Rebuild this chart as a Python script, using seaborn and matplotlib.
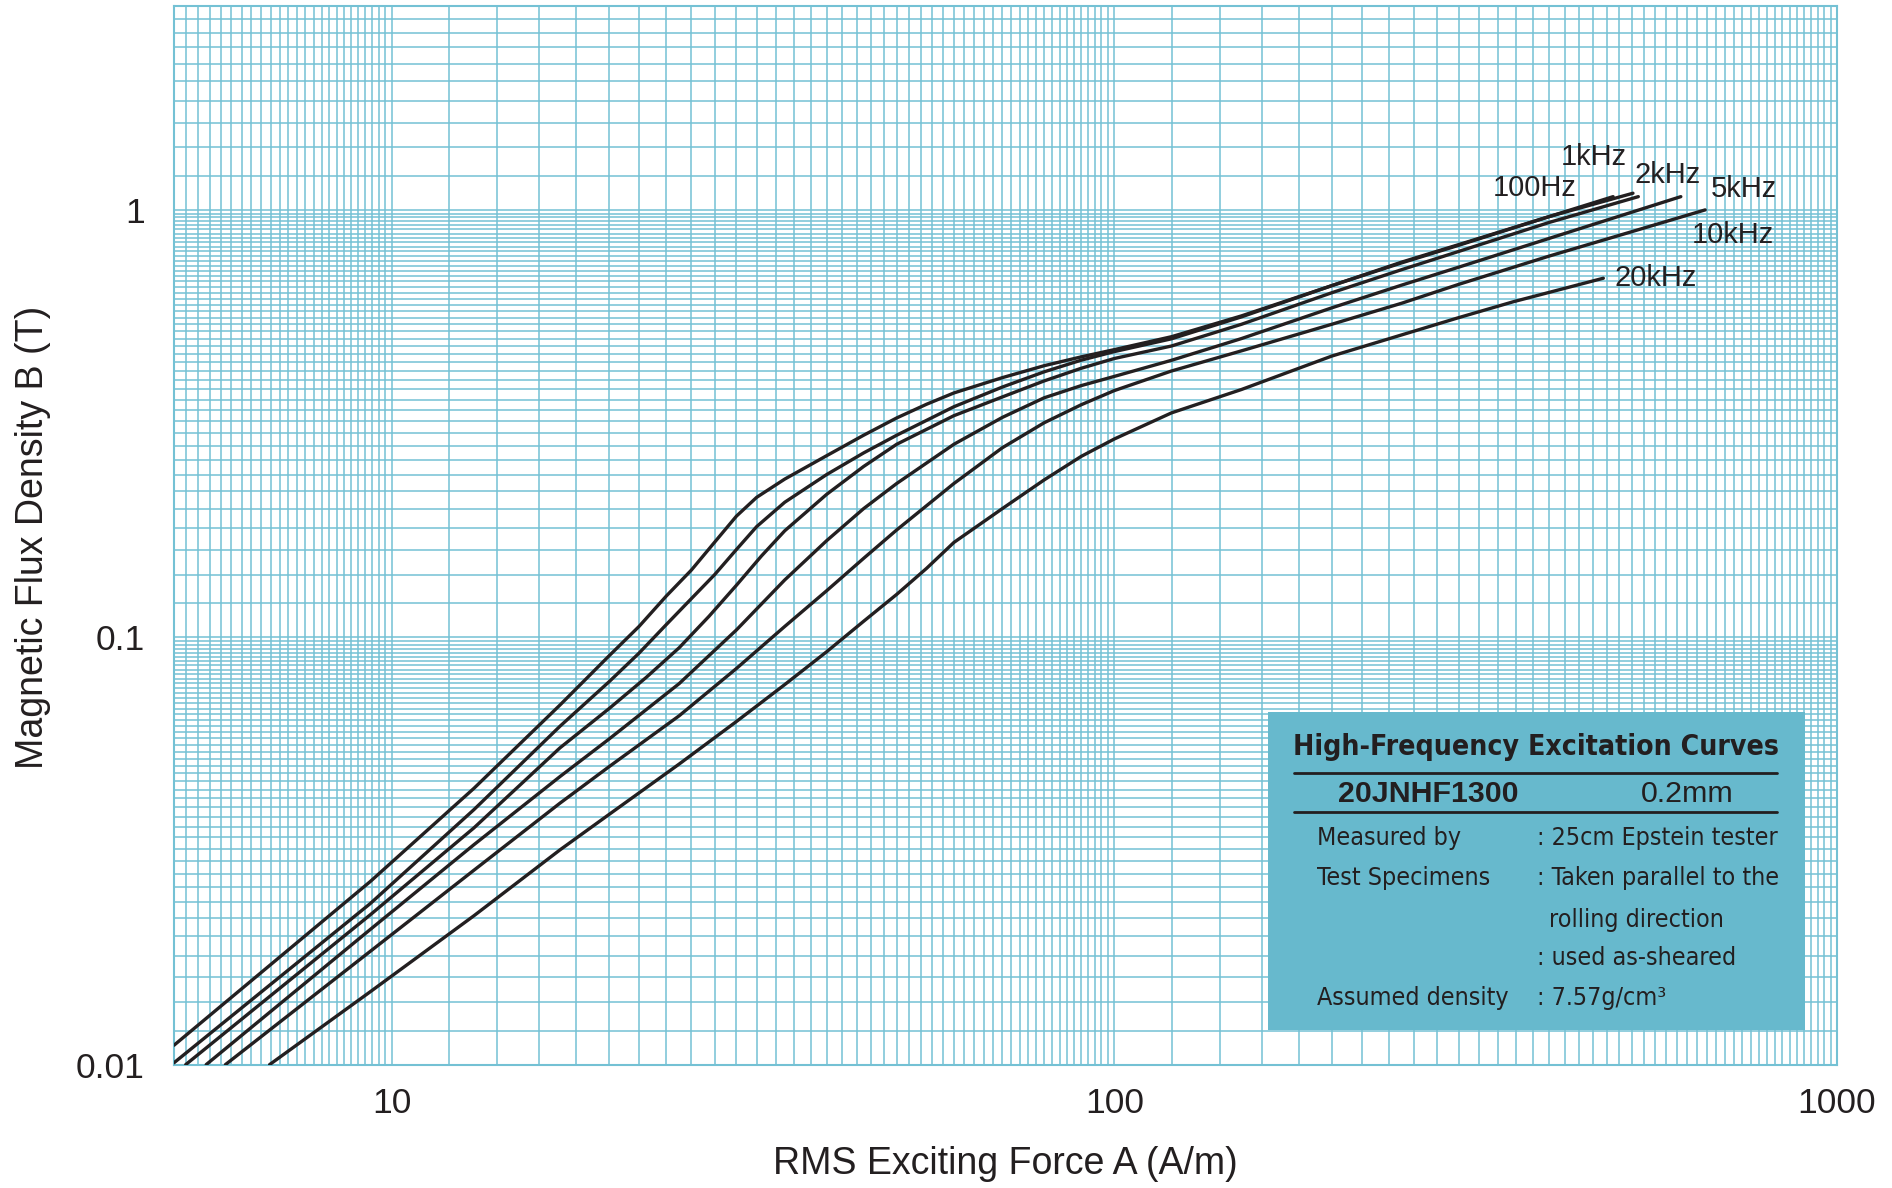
import numpy as np
import pandas as pd
import matplotlib
matplotlib.use("Agg")
import matplotlib.pyplot as plt
from matplotlib import font_manager
from matplotlib.ticker import FixedLocator, NullFormatter
from matplotlib.patches import Rectangle
import seaborn as sns

# --- data (H in A/m, B in T) ---
h_100hz = [5, 9.34, 13, 17.1, 20, 22, 24, 26, 28, 30, 32, 35, 40, 45, 50, 55, 60, 70, 80, 90, 100,
           120, 150, 200, 250, 300, 400, 490]
b_100hz = [0.0111, 0.0268, 0.0443, 0.0694, 0.0905, 0.106, 0.1249, 0.1437, 0.167, 0.192, 0.2125, 0.2345,
           0.266, 0.297, 0.326, 0.351, 0.373, 0.405, 0.432, 0.453, 0.471,
           0.505, 0.565, 0.665, 0.755, 0.83, 0.965, 1.074]

h_1khz = [5, 9.34, 13, 17.1, 20, 22, 24, 26, 28, 30, 32, 35, 40, 45, 50, 60, 70, 80, 90, 100,
          120, 150, 200, 250, 300, 400, 522]
b_1khz = [0.0101, 0.0238, 0.0395, 0.0619, 0.0787, 0.0918, 0.1071, 0.1232, 0.1402, 0.1604, 0.1815, 0.207,
          0.2403, 0.27, 0.297, 0.3463, 0.385, 0.418, 0.445, 0.466,
          0.4993, 0.562, 0.665, 0.752, 0.827, 0.965, 1.094]

h_2khz = [5.19, 9.34, 13, 17.1, 20, 22.5, 25, 27.5, 30, 32.5, 35, 40, 45, 50, 60, 70, 80, 90, 100,
          120, 150, 200, 250, 300, 400, 531]
b_2khz = [0.01, 0.0224, 0.0358, 0.0551, 0.0681, 0.0805, 0.0945, 0.112, 0.1323, 0.155, 0.1775, 0.216,
          0.251, 0.2829, 0.33, 0.365, 0.398, 0.426, 0.449,
          0.4803, 0.54, 0.64, 0.725, 0.8, 0.935, 1.074]

h_5khz = [5.54, 9.34, 13, 17.1, 20, 25, 30, 35, 40, 45, 50, 60, 70, 80, 90, 100,
          120, 150, 200, 250, 300, 400, 608]
b_5khz = [0.01, 0.0207, 0.0327, 0.0472, 0.0578, 0.0779, 0.104, 0.1362, 0.1683, 0.2, 0.229, 0.2829,
          0.3269, 0.3634, 0.388, 0.4077, 0.4447, 0.5, 0.59, 0.667, 0.735, 0.858, 1.074]

h_10khz = [5.89, 9.34, 13, 17.1, 20, 25, 30, 35, 40, 45, 50, 60, 70, 80, 90, 100,
           120, 150, 200, 250, 300, 400, 500, 657]
b_10khz = [0.01, 0.0184, 0.0285, 0.0409, 0.0498, 0.0655, 0.0845, 0.106, 0.1285, 0.153, 0.1783, 0.229,
           0.2776, 0.3177, 0.35, 0.3777, 0.4198, 0.468, 0.54, 0.605, 0.67, 0.78, 0.872, 1.0]

h_20khz = [6.78, 9.34, 13, 17.1, 20, 25, 30, 35, 40, 45, 50, 55, 60, 70, 80, 90, 100,
           120, 150, 200, 300, 357, 475]
b_20khz = [0.01, 0.0148, 0.0223, 0.0318, 0.0385, 0.0505, 0.0635, 0.0775, 0.0925, 0.109, 0.126, 0.145,
           0.1667, 0.2, 0.2335, 0.265, 0.291, 0.335, 0.38, 0.455, 0.56, 0.61, 0.692]

freq_labels = ["100Hz", "1kHz", "2kHz", "5kHz", "10kHz", "20kHz"]
x_ticks = [10, 100, 1000]
x_tick_labels = ["10", "100", "1000"]
y_ticks = [0.01, 0.1, 1]
y_tick_labels = ["0.01", "0.1", "1"]

series = [(h_100hz, b_100hz), (h_1khz, b_1khz), (h_2khz, b_2khz),
          (h_5khz, b_5khz), (h_10khz, b_10khz), (h_20khz, b_20khz)]
frames = []
for name, (h, b) in zip(freq_labels, series):
    frames.append(pd.DataFrame({"H": h, "B": b, "freq": name}))
df = pd.concat(frames, ignore_index=True)

GRID = "#74c1d4"
INK = "#231f20"
BOX = "#67b9cd"

sns.set_style("white")
plt.rcParams["font.family"] = ["Liberation Sans", "DejaVu Sans"]

# pick a narrow face for the info box if one is installed
names = {(f.name, f.stretch) for f in font_manager.fontManager.ttflist}
if any(n == "Liberation Sans Narrow" for n, _ in names):
    NARROW = dict(family="Liberation Sans Narrow")
elif ("DejaVu Sans", "condensed") in names:
    NARROW = dict(family="DejaVu Sans", fontstretch="condensed")
else:
    NARROW = dict(family="Liberation Sans")

fig = plt.figure(figsize=(18.92, 11.88), dpi=100)
ax = fig.add_axes([0.09197, 0.10387, 0.87896, 0.89108])
ax.set_xscale("log")
ax.set_yscale("log")
ax.set_xlim(5, 1000)
ax.set_ylim(0.01, 3)

# graph-paper grid: 0.2 steps within each decade
x_grid = [round(d * (1 + 0.2 * k), 6) for d in (1, 10, 100) for k in range(46)]
x_grid = [v for v in x_grid if 5 <= v <= 1000]
y_grid = [round(d * (1 + 0.2 * k), 6) for d in (0.01, 0.1, 1) for k in range(46)]
y_grid = [v for v in y_grid if 0.01 <= v <= 3]
ax.xaxis.set_minor_locator(FixedLocator(x_grid))
ax.yaxis.set_minor_locator(FixedLocator(y_grid))
ax.xaxis.set_minor_formatter(NullFormatter())
ax.yaxis.set_minor_formatter(NullFormatter())
ax.set_xticks(x_ticks)
ax.set_xticklabels(x_tick_labels)
ax.set_yticks(y_ticks)
ax.set_yticklabels(y_tick_labels)
ax.grid(which="both", color=GRID, linewidth=1.1)
ax.set_axisbelow(True)
ax.tick_params(which="both", length=0)
ax.tick_params(axis="x", labelsize=25.5, pad=16, colors=INK)
ax.tick_params(axis="y", labelsize=25.5, pad=21, colors=INK)
for s in ax.spines.values():
    s.set_color(GRID)
    s.set_linewidth(1.5)

sns.lineplot(data=df, x="H", y="B", hue="freq", palette=[INK] * 6, estimator=None,
             sort=False, legend=False, linewidth=2.4, ax=ax, zorder=3)

ax.set_xlabel("RMS Exciting Force A (A/m)", fontsize=27, color=INK)
ax.set_ylabel("Magnetic Flux Density B (T)", fontsize=27, color=INK)
ax.xaxis.label.set_va("center")
ax.yaxis.label.set_va("center")
ax.xaxis.set_label_coords(0.5, -0.0939)
ax.yaxis.set_label_coords(-0.0848, 0.498)

# curve labels
label_pos = {"1kHz": (0.8538, 0.8577), "100Hz": (0.8182, 0.8279), "2kHz": (0.8981, 0.8404),
             "5kHz": (0.9441, 0.8269), "10kHz": (0.9372, 0.7837), "20kHz": (0.8910, 0.7434)}
for name in freq_labels:
    x, y = label_pos[name]
    ax.text(x, y, name, transform=ax.transAxes, fontsize=21, color=INK,
            ha="center", va="center", zorder=4)

# info box
ax.add_patch(Rectangle((0.6578, 0.0327), 0.9805 - 0.6578, 0.3328 - 0.0327,
                       transform=ax.transAxes, facecolor=BOX, edgecolor="none", zorder=5))
renderer = fig.canvas.get_renderer()


def fit_text(t, width_px):
    # shrink/grow the font so the string spans about the width seen in the reference
    w = t.get_window_extent(renderer=renderer).width
    t.set_fontsize(t.get_fontsize() * width_px / w)


title = ax.text(0.8189, 0.3003, "High-Frequency Excitation Curves", transform=ax.transAxes,
                fontsize=28, fontweight="bold", color=INK, ha="center", va="center", zorder=6, **NARROW)
fit_text(title, 486)
for yy in (0.2757, 0.2389):
    ax.plot([0.6734, 0.9641], [yy, yy], transform=ax.transAxes, color=INK, lw=2, zorder=6)
grade = ax.text(0.7543, 0.2559, "20JNHF1300", transform=ax.transAxes, fontsize=21.5, fontweight="bold",
                color=INK, ha="center", va="center", zorder=6)
fit_text(grade, 181)
ax.text(0.9097, 0.2559, "0.2mm", transform=ax.transAxes, fontsize=grade.get_fontsize(),
        color=INK, ha="center", va="center", zorder=6)

rows = [("Measured by", ": 25cm Epstein tester", 0.2138),
        ("Test Specimens", ": Taken parallel to the", 0.1760),
        ("", "rolling direction", 0.1366),
        ("", ": used as-sheared", 0.1004),
        ("Assumed density", ": 7.57g/cm³", 0.0626)]
probe = ax.text(0, 0, ": 25cm Epstein tester", fontsize=20, **NARROW)
fit_text(probe, 240)
row_fs = probe.get_fontsize()
probe.remove()
for left, right, yy in rows:
    if left:
        ax.text(0.6874, yy, left, transform=ax.transAxes, fontsize=row_fs,
                color=INK, ha="left", va="center", zorder=6, **NARROW)
    rx = 0.8195 if right.startswith(":") else 0.8270
    ax.text(rx, yy, right, transform=ax.transAxes, fontsize=row_fs,
            color=INK, ha="left", va="center", zorder=6, **NARROW)

fig.savefig("out.png", dpi=100)
